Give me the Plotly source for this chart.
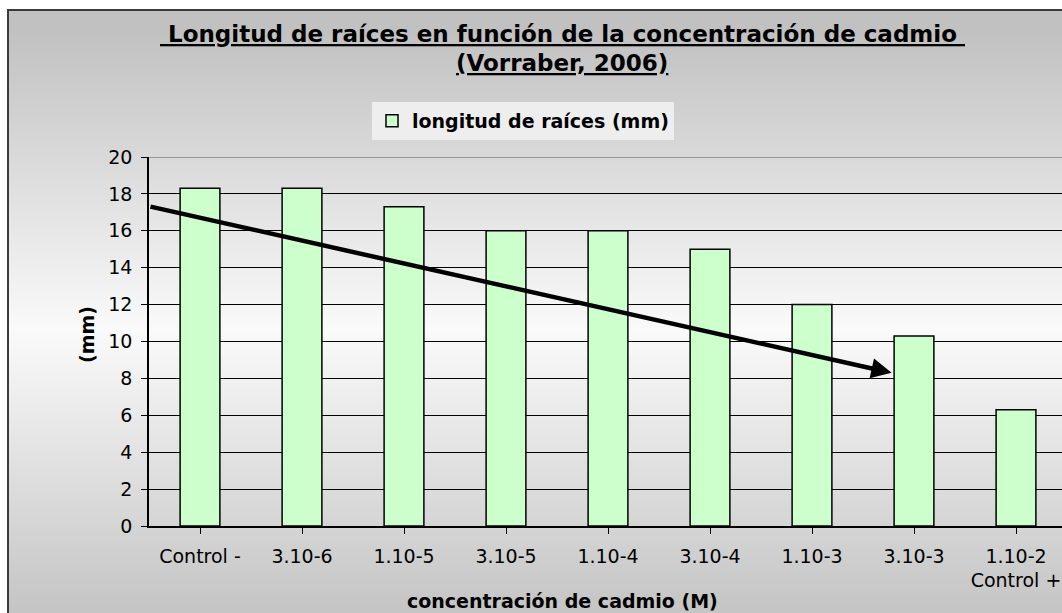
import plotly.graph_objects as go

# Root length per cadmium concentration
categories = ["Control -", "3.10-6", "1.10-5", "3.10-5", "1.10-4",
              "3.10-4", "1.10-3", "3.10-3", "1.10-2<br>Control +"]
root_length_mm = [18.3, 18.3, 17.3, 16.0, 16.0, 15.0, 12.0, 10.3, 6.3]
y_ticks = [0, 2, 4, 6, 8, 10, 12, 14, 16, 18, 20]

# Hand-drawn trend arrow (category index, mm): tail then head
trend_x = [-0.5, 6.78]
trend_y = [17.33, 8.3]

W, H = 1062, 613
L, T, B = 149, 157, 87
plot_w = W - L
plot_h = H - T - B
cat_px = 102.0


def px_x(p):
    return (p - L) / plot_w


def px_y(p):
    return (H - B - p) / plot_h


FONT = "DejaVu Sans"

fig = go.Figure()
fig.add_trace(go.Bar(
    x=list(range(len(categories))),
    y=root_length_mm,
    name="<b>longitud de raíces (mm)</b>",
    width=0.39,
    marker=dict(color="#CCFFCC", line=dict(color="black", width=1.5)),
))

shapes = []
# vertical grey-white-grey background gradient of the chart area
step = 3
for yp in range(10, H + 10, step):
    d = min(1.0, abs(yp + step / 2 - 330) / 300.0)
    g = int(round(250 - (250 - 193) * d))
    shapes.append(dict(
        type="rect", xref="paper", yref="paper", layer="below",
        x0=px_x(8), x1=1.02, y0=px_y(yp + step), y1=px_y(yp),
        fillcolor=f"rgb({g},{g},{g})", line=dict(width=0),
    ))
# chart frame
shapes.append(dict(
    type="rect", xref="paper", yref="paper", layer="below",
    x0=px_x(8), x1=1.05, y0=px_y(640), y1=px_y(10),
    fillcolor="rgba(0,0,0,0)", line=dict(color="#3a3a3a", width=2),
))
# grey top edge of the plot area
shapes.append(dict(
    type="line", xref="paper", yref="y", layer="above",
    x0=0, x1=1, y0=20, y1=20, line=dict(color="#808080", width=1.5),
))

title_font = dict(family=FONT, size=23, color="black")
annotations = [
    dict(
        text="<b><u>\u00a0Longitud de raíces en función de la concentración de cadmio\u00a0</u></b>",
        xref="paper", yref="paper", x=px_x(562), y=px_y(34),
        xanchor="center", yanchor="middle", showarrow=False, font=title_font,
    ),
    dict(
        text="<b><u>(Vorraber, 2006)</u></b>",
        xref="paper", yref="paper", x=px_x(562), y=px_y(63),
        xanchor="center", yanchor="middle", showarrow=False, font=title_font,
    ),
    dict(
        text="<b>(mm)</b>", textangle=-90,
        xref="paper", yref="paper", x=px_x(87), y=px_y(335),
        xanchor="center", yanchor="middle", showarrow=False,
        font=dict(family=FONT, size=19, color="black"),
    ),
    dict(
        text="<b>concentración de cadmio (M)</b>",
        xref="paper", yref="paper", x=px_x(562), y=px_y(601),
        xanchor="center", yanchor="middle", showarrow=False,
        font=dict(family=FONT, size=19, color="black"),
    ),
    dict(
        text="", x=trend_x[1], y=trend_y[1], ax=trend_x[0], ay=trend_y[0],
        xref="x", yref="y", axref="x", ayref="y",
        showarrow=True, arrowhead=2, arrowsize=0.9, arrowwidth=4.5,
        arrowcolor="black", standoff=0,
    ),
]

fig.update_layout(
    width=W, height=H,
    margin=dict(l=L, r=0, t=T, b=B, pad=0),
    paper_bgcolor="white",
    plot_bgcolor="#C0C0C0",
    font=dict(family=FONT, size=19, color="black"),
    showlegend=True,
    legend=dict(
        x=px_x(372), y=px_y(102), xanchor="left", yanchor="top",
        bgcolor="#EEEEEE", borderwidth=0,
        font=dict(family=FONT, size=19, color="black"),
        itemwidth=30,
    ),
    shapes=shapes,
    annotations=annotations,
    bargap=0.61,
)

fig.update_xaxes(
    range=[-0.5, -0.5 + plot_w / cat_px],
    tickmode="array", tickvals=list(range(len(categories))), ticktext=categories,
    showgrid=False, zeroline=False,
    showline=True, linecolor="black", linewidth=1.5,
    ticks="outside", ticklen=6, tickcolor="black", ticklabelstandoff=6,
    tickfont=dict(family=FONT, size=19, color="black"),
)
fig.update_yaxes(
    range=[0, 20], tickvals=y_ticks, showgrid=True, gridcolor="black", gridwidth=1,
    zeroline=False, showline=True, linecolor="black", linewidth=1.5,
    ticks="outside", ticklen=6, tickcolor="black", ticklabelstandoff=5,
    tickfont=dict(family=FONT, size=19, color="black"),
)

fig.write_html("out.html")
